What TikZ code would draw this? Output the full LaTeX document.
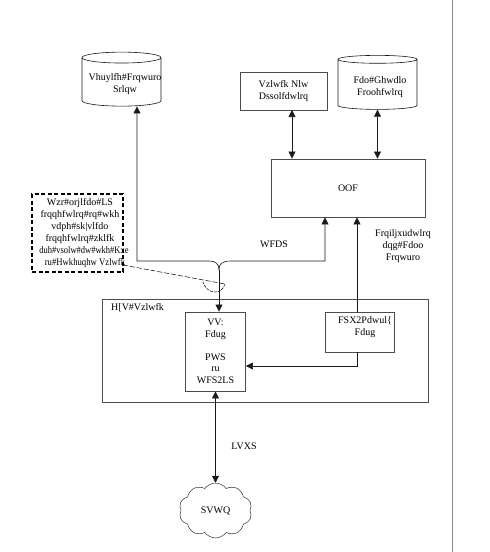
\documentclass[tikz,border=0pt]{standalone}
\usepackage{fontspec}
\setmainfont{Liberation Serif}
\usetikzlibrary{arrows.meta,shapes.geometric,shapes.symbols}

\tikzset{
    box/.style={draw=black!70,line width=0.8pt,inner sep=0pt,align=center,font=\fontsize{10}{12}\selectfont},
    store/.style={draw=black!90,line width=0.6pt,cylinder,shape border rotate=90,aspect=0.15,inner sep=0pt,align=center,
        minimum width=79pt,minimum height=54pt,font=\fontsize{10}{12}\selectfont},
    lbl/.style={inner sep=0pt,align=center,font=\fontsize{10}{12}\selectfont},
    conn/.style={line width=0.6pt,black!90,-{Triangle[length=7pt,width=7pt]}},
    both/.style={line width=0.6pt,black!90,{Triangle[length=7pt,width=7pt]}-{Triangle[length=7pt,width=7pt]}}
}

\begin{document}
\begin{tikzpicture}[x=1pt,y=-1pt]
    \useasboundingbox (0,0) rectangle (490,552);

    \draw[line width=1pt,black!45] (452,0) -- (452,552);

    \node[store] (scp) at (121.5,82) {\phantom{Vhuylfh\#Frqwuro}\\\phantom{Srlqw}};
    \node[lbl] (scptxt) at (125,84) {Vhuylfh\#Frqwuro\\Srlqw};
    \node[store] (cdc) at (377.5,84.5) {\phantom{Fdo\#Ghwdlo}\\\phantom{Froohfwlrq}};
    \node[lbl] (cdctxt) at (380,87.5) {Fdo\#Ghwdlo\\Froohfwlrq};
    \node[box,minimum width=87pt,minimum height=38pt] (app) at (283.5,91) {Vzlwfk Nlw\\Dssolfdwlrq};
    \node[box,minimum width=154pt,minimum height=58pt] (llc) at (348,188) {OOF};

    \node[box,dash pattern=on 4pt off 2.5pt,draw=black,line width=1.2pt,minimum width=91pt,minimum height=78pt] (note) at (77.5,233) {};
    \node[lbl] (notetxt) at (80,233)
        {Wzr\#orjlfdo\#LS\\frqqhfwlrq\#rq\#wkh\\vdph\#sk|vlfdo\\frqqhfwlrq\#zklfk\\
        \hspace*{8pt}\scalebox{0.85}[1]{duh\#vsolw\#dw\#wkh\#Kxe}\\\hspace*{10pt}\scalebox{0.87}[1]{ru\#Hwkhuqhw Vzlwfk}};

    \node[box,minimum width=326pt,minimum height=103pt] (exs) at (265,350.5) {};
    \node[lbl,anchor=west] (exslbl) at (111,308) {H[V\#Vzlwfk};
    \node[box,minimum width=60pt,minimum height=79pt,line width=0.9pt,font=\fontsize{10}{11.5}\selectfont] (ss7) at (215.5,351.5)
        {VV:\\Fdug\\[11.5pt]PWS\\ru\\WFS2LS};
    \node[box,minimum width=69pt,minimum height=40pt] (cpu) at (359.5,332) {};
    \node[lbl] (cputxt) at (365,327) {FSX2Pdwul\{\\Fdug};

    \node[draw=black!80,line width=0.5pt,cloud,cloud puffs=10,cloud puff arc=110,aspect=1.4,inner sep=0pt,
        minimum width=73pt,minimum height=55pt,font=\fontsize{10}{12}\selectfont] (pstn) at (215.5,510.5) {SVWQ};

    \node[lbl] (tcaplbl) at (274,244) {WFDS};
    \node[lbl] (cfglbl) at (403,246.5) {Frqiljxudwlrq\\dqg\#Fdoo\\Frqwuro};
    \node[lbl] (isuplbl) at (244,446) {LVXS};

    \coordinate (tcapjoin) at (219,270);
    \coordinate (scpturn) at (137,261);
    \coordinate (llcturn) at (325,261);
    \coordinate (cpuside) at (357,366);
    \coordinate (applink) at (292,110);
    \coordinate (noteout) at (123,265);
    \coordinate (notetip) at (225,284);

    \draw[conn] (tcapjoin) .. controls (219,264) and (216,261) .. (209,261) -- (scpturn) -- (scpturn |- scp.south);
    \draw[conn] (tcapjoin) .. controls (219,264) and (222,261) .. (231,261) -- (llcturn) -- (llcturn |- llc.south);
    \draw[conn] (tcapjoin) -- (tcapjoin |- ss7.north);
    \draw[conn] (cpuside |- cpu.north) -- (cpuside |- llc.south);
    \draw[conn] (cpuside |- cpu.south) -- (cpuside) -- (cpuside -| ss7.east);
    \draw[both] (ss7.south) -- (pstn.north);
    \draw[both] (applink) -- (applink |- llc.north);
    \draw[both] (cdc.south) -- (cdc.south |- llc.north);

    % callout of the note
    \draw[dash pattern=on 5pt off 2pt,line width=0.5pt] (noteout) -- (notetip);
    \draw[dash pattern=on 3pt off 1pt,line width=0.5pt] (notetip) .. controls (222,295) and (207,295) .. (203,282);
\end{tikzpicture}
\end{document}
